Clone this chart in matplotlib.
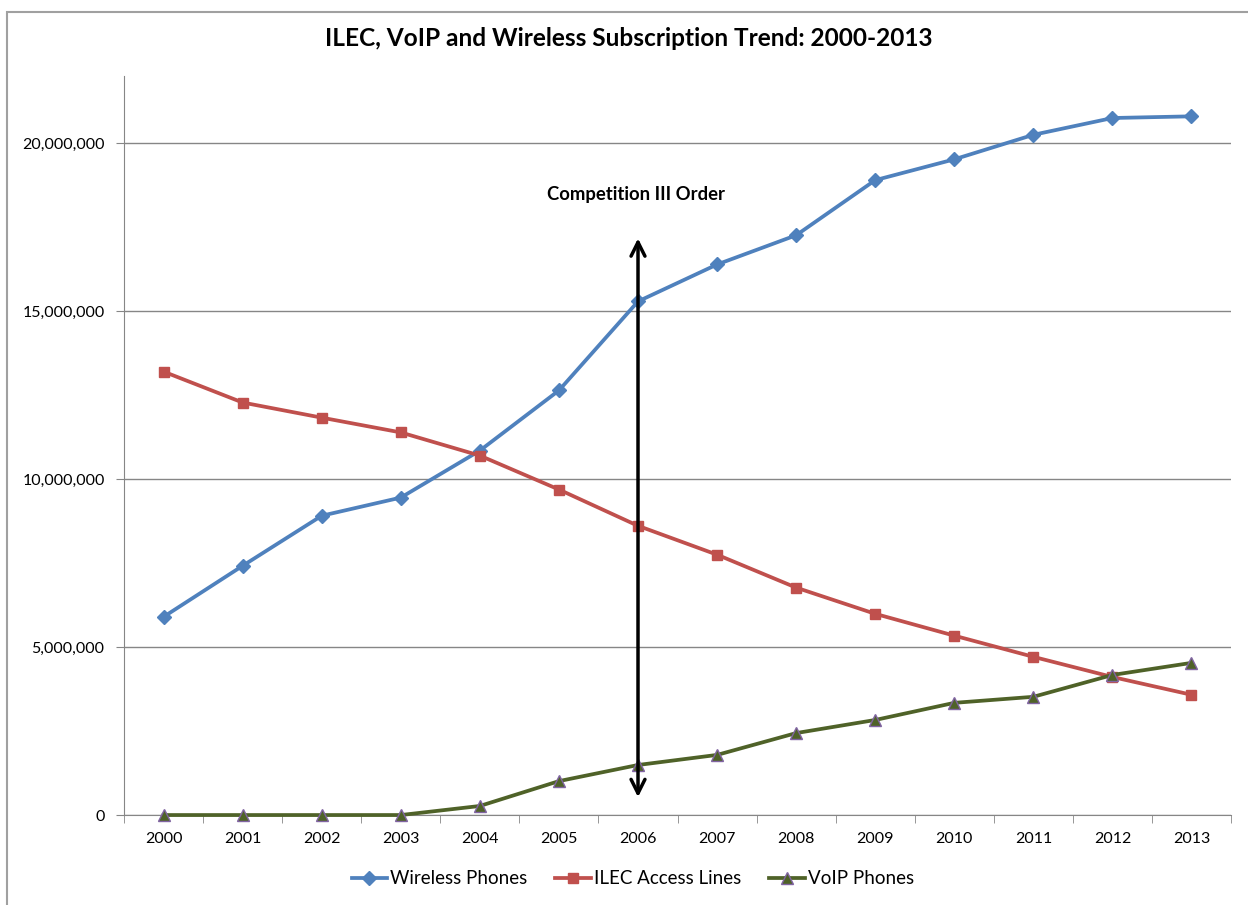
import matplotlib.pyplot as plt
from matplotlib.ticker import FuncFormatter, MultipleLocator, FixedLocator
from matplotlib.patches import Rectangle

plt.rcParams['font.family'] = ['Lato', 'DejaVu Sans']

# данные
years = ['2000', '2001', '2002', '2003', '2004', '2005', '2006',
         '2007', '2008', '2009', '2010', '2011', '2012', '2013']
wireless = [5.90e6, 7.42e6, 8.91e6, 9.45e6, 10.85e6, 12.64e6, 15.29e6,
            16.39e6, 17.26e6, 18.90e6, 19.52e6, 20.25e6, 20.75e6, 20.80e6]
ilec = [13.20e6, 12.28e6, 11.83e6, 11.39e6, 10.70e6, 9.69e6, 8.61e6,
        7.75e6, 6.77e6, 5.99e6, 5.34e6, 4.71e6, 4.11e6, 3.58e6]
voip = [0, 0, 0, 0, 0.27e6, 1.01e6, 1.49e6,
        1.79e6, 2.44e6, 2.83e6, 3.34e6, 3.52e6, 4.17e6, 4.53e6]

fig = plt.figure(figsize=(12.48, 9.05), dpi=100)
ax = fig.add_axes([0.0994, 0.0994, 0.887, 0.8166])

# рамка вокруг диаграммы
fig.patches.append(Rectangle((0.0056, -0.1), 1.2, 1.0867, transform=fig.transFigure,
                             fill=False, edgecolor='#a0a0a0', linewidth=1.5))

x = range(len(years))
ax.plot(x, wireless, color='#4F81BD', linewidth=2.7, marker='D', markersize=7.5,
        label='Wireless Phones', clip_on=False)
ax.plot(x, ilec, color='#C0504D', linewidth=2.7, marker='s', markersize=7,
        label='ILEC Access Lines', clip_on=False)
ax.plot(x, voip, color='#4F6228', linewidth=2.7, marker='^', markersize=8.5,
        markeredgecolor='#8064A2', markeredgewidth=1, label='VoIP Phones',
        clip_on=False, zorder=3)

# стрелка Competition III Order
ax.annotate('', xy=(6, 17.25e6), xytext=(6, 0.45e6),
            arrowprops=dict(arrowstyle='<->', color='black', lw=2.5,
                            mutation_scale=25))
ax.text(5.97, 18.48e6, 'Competition III Order', ha='center', va='center',
        fontsize=13.3, fontweight='bold')

ax.set_xlim(-0.5, len(years) - 0.5)
ax.set_ylim(0, 22e6)
ax.yaxis.set_major_locator(MultipleLocator(5e6))
ax.yaxis.set_major_formatter(FuncFormatter(lambda v, p: f'{int(v):,}'))
ax.set_xticks(list(x))
ax.set_xticklabels(years)
ax.xaxis.set_minor_locator(FixedLocator([i - 0.5 for i in range(len(years) + 1)]))
ax.tick_params(axis='x', which='major', length=0, pad=12, labelsize=11.5)
ax.tick_params(axis='x', which='minor', length=6, color='#868686')
ax.tick_params(axis='y', length=6, color='#868686', labelsize=11.5, pad=8)
ax.grid(axis='y', color='#868686', linewidth=1)
ax.set_axisbelow(True)
for s in ['top', 'right']:
    ax.spines[s].set_visible(False)
for s in ['left', 'bottom']:
    ax.spines[s].set_color('#868686')

fig.text(0.5036, 0.958, 'ILEC, VoIP and Wireless Subscription Trend: 2000-2013',
         ha='center', va='center', fontsize=17.6, fontweight='bold')

fig.legend(loc='center', bbox_to_anchor=(0.507, 0.029), ncol=3, frameon=False,
           fontsize=13.5, handlelength=1.9, columnspacing=1.5, handletextpad=0.15)

plt.savefig('out.png', dpi=100)
